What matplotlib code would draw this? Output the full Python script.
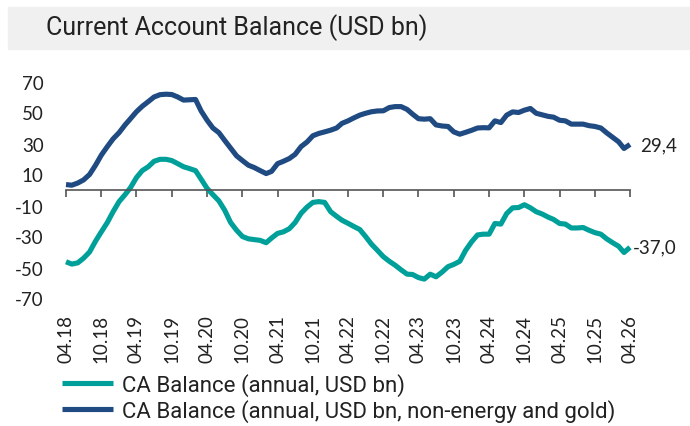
import pandas as pd
import matplotlib
matplotlib.use("Agg")
import matplotlib.pyplot as plt
from matplotlib.patches import Rectangle

months = pd.date_range("2018-04-01", "2026-04-01", freq="MS")

ca_total = [-46.3, -47.8, -47.0, -44.0, -40.0, -33.0, -27.0, -21.0, -14.0, -7.5,
            -3.0, 1.5, 8.0, 12.5, 15.0, 18.5, 19.8, 19.8, 19.0, 17.0,
            15.0, 13.8, 12.5, 7.0, 1.0, -3.0, -7.0, -13.0, -21.0, -26.0,
            -30.0, -31.5, -32.0, -32.5, -34.0, -31.0, -28.0, -27.0, -25.0, -21.0,
            -15.0, -11.0, -8.0, -7.5, -8.0, -14.0, -17.0, -19.5, -21.5, -23.5,
            -25.5, -30.0, -35.0, -39.0, -43.0, -46.0, -48.5, -51.5, -54.3, -54.5,
            -56.5, -57.5, -54.3, -56.0, -53.0, -49.5, -48.0, -46.0, -39.0, -33.5,
            -29.0, -28.5, -28.5, -21.6, -22.0, -15.2, -11.5, -11.3, -9.5, -11.5,
            -14.0, -15.5, -17.5, -19.0, -21.6, -22.0, -24.5, -24.5, -24.2, -26.0,
            -27.5, -28.5, -31.5, -34.0, -36.3, -40.3, -37.0]

ca_core = [3.5, 3.1, 4.5, 6.5, 10.0, 16.0, 22.5, 28.0, 33.0, 37.0,
           42.0, 46.0, 50.5, 54.0, 57.0, 60.0, 61.5, 61.8, 61.6, 60.0,
           58.0, 58.2, 58.4, 51.0, 45.0, 40.0, 37.0, 32.0, 27.0, 22.0,
           19.0, 16.0, 14.5, 12.5, 10.6, 12.0, 17.0, 18.5, 20.3, 23.0,
           28.0, 31.0, 35.0, 36.5, 37.5, 38.6, 40.0, 43.0, 44.6, 46.5,
           48.3, 49.5, 50.5, 51.0, 51.1, 53.2, 53.8, 53.8, 52.0, 49.0,
           46.0, 45.7, 46.0, 42.0, 41.3, 41.0, 37.5, 36.0, 37.2, 38.5,
           40.0, 40.2, 40.1, 44.6, 43.5, 48.3, 50.4, 50.0, 51.5, 52.6,
           49.5, 48.5, 47.5, 47.0, 45.0, 44.6, 42.5, 42.5, 42.5, 41.5,
           41.0, 40.0, 36.9, 34.0, 31.1, 26.8, 29.4]

tick_dates = pd.date_range("2018-04-01", "2026-04-01", freq="6MS")
tick_labels = ["04.18", "10.18", "04.19", "10.19", "04.20", "10.20", "04.21", "10.21",
               "04.22", "10.22", "04.23", "10.23", "04.24", "10.24", "04.25", "10.25", "04.26"]
y_ticks = [70, 50, 30, 10, -10, -30, -50, -70]

teal = "#00a09a"
navy = "#1f4b82"
num_font = ["Lato", "DejaVu Sans"]
narrow = ["Roboto", "DejaVu Sans"]
txt_col = "#222222"
num_kw = dict(family=num_font, fontsize=13.5, color=txt_col)

fig = plt.figure(figsize=(6.9, 4.27), dpi=100)

# title band
fig.patches.append(Rectangle((8 / 690, 1 - 50 / 427), 1, 42 / 427,
                             transform=fig.transFigure, color="#f0f0f0", zorder=0))
fig.text(46 / 690, 1 - 28 / 427, "Current Account Balance (USD bn)",
         family=narrow, fontsize=18, color=txt_col, va="center")

ax = fig.add_axes([66 / 690, 1 - 299.5 / 427, 564 / 690, 217 / 427])
l1, = ax.plot(months, ca_total, color=teal, lw=3.7, solid_capstyle="butt", clip_on=False)
l2, = ax.plot(months, ca_core, color=navy, lw=3.7, solid_capstyle="butt", clip_on=False)

ax.set_xlim(months[0], months[-1])
ax.set_ylim(-70, 70)
ax.set_yticks(y_ticks)
ax.set_yticklabels([str(v) for v in y_ticks], **num_kw)
ax.tick_params(axis="y", length=0, pad=16)

for s in ["top", "right", "left"]:
    ax.spines[s].set_visible(False)
ax.spines["bottom"].set_position(("data", 0))
ax.spines["bottom"].set_color("#555555")
ax.spines["bottom"].set_linewidth(1.2)
ax.set_xticks(tick_dates)
ax.tick_params(axis="x", direction="out", length=5, width=1.2, color="#555555", labelbottom=False)

sec = ax.secondary_xaxis("bottom")
sec.set_xticks(tick_dates, labels=tick_labels)
sec.tick_params(length=0, pad=11)
sec.spines["bottom"].set_visible(False)
for t in sec.get_xticklabels():
    t.set_rotation(90)
    t.set_family(num_font)
    t.set_fontsize(13.5)
    t.set_color(txt_col)

ax.annotate(f"{ca_core[-1]:.1f}".replace(".", ","), (months[-1], ca_core[-1]),
            xytext=(7, 0), textcoords="offset points", va="center",
            annotation_clip=False, **num_kw)
ax.annotate(f"{ca_total[-1]:.1f}".replace(".", ","), (months[-1], ca_total[-1]),
            xytext=(2, 0), textcoords="offset points", va="center",
            annotation_clip=False, **num_kw)

fig.legend([l1, l2], ["CA Balance (annual, USD bn)",
                      "CA Balance (annual, USD bn, non-energy and gold)"],
           loc="upper left", bbox_to_anchor=(53 / 690, 1 - 365 / 427), frameon=False,
           prop={"family": narrow, "size": 16}, handlelength=2.3, handletextpad=0.4,
           labelspacing=0.12, borderaxespad=0, labelcolor=txt_col)

fig.savefig("out.png", dpi=100)
